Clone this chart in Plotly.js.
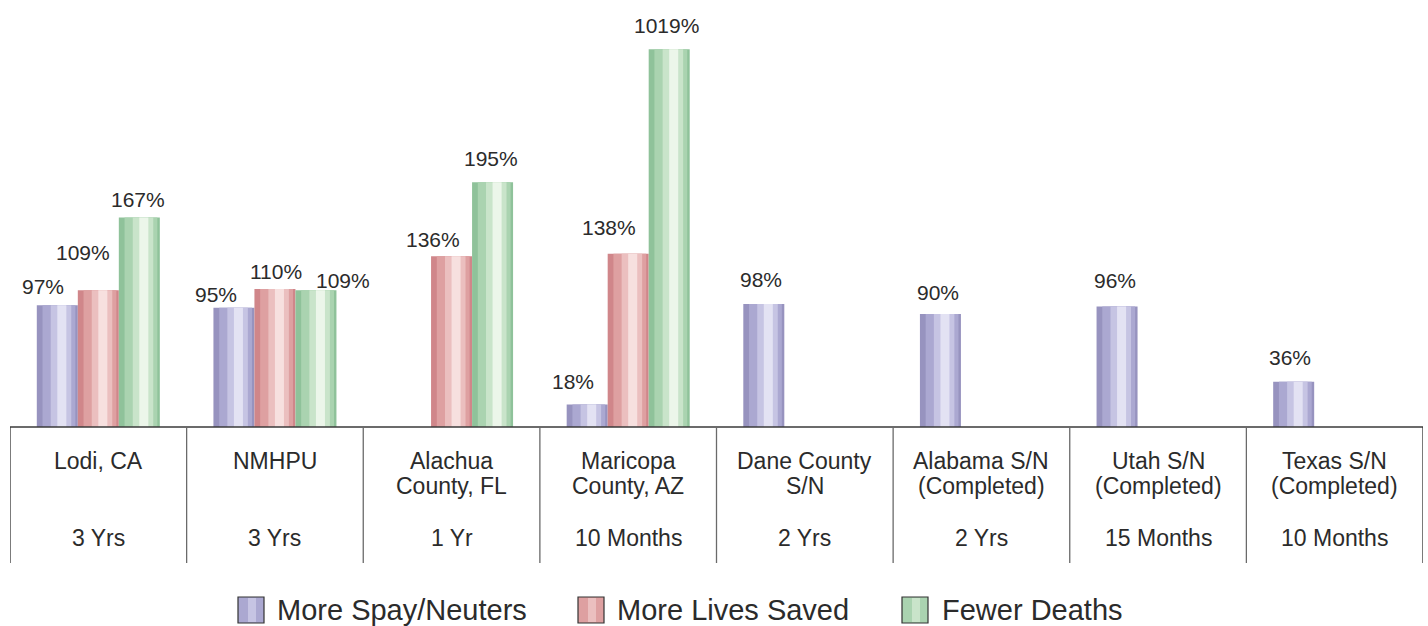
<!DOCTYPE html>
<html><head><meta charset="utf-8">
<script src="https://cdn.plot.ly/plotly-3.0.1.min.js"></script>
<style>html,body{margin:0;padding:0;background:#fff;}#chart{width:1428px;height:626px;}</style>
</head><body><div id="chart"></div>
<script>
// ---------- data ----------
const categories = ["Lodi, CA", "NMHPU", "Alachua<br>County, FL", "Maricopa<br>County, AZ",
  "Dane County<br>S/N", "Alabama S/N<br>(Completed)", "Utah S/N<br>(Completed)", "Texas S/N<br>(Completed)"];
const durations = ["3 Yrs", "3 Yrs", "1 Yr", "10 Months", "2 Yrs", "2 Yrs", "15 Months", "10 Months"];
const seriesNames = ["More Spay/Neuters", "More Lives Saved", "Fewer Deaths"];
const spayNeuters = [97, 95, null, 18, 98, 90, 96, 36];
const livesSaved  = [109, 110, 136, 138, null, null, null, null];
const fewerDeaths = [167, 109, 195, 1019, null, null, null, null];

// ---------- layout constants ----------
const W = 1428, H = 626;
const YMAX = 301;                 // visible top of value axis (taller bars are cut off)
const slotW = 41 / 176.6;         // one bar's width in category units
const seriesVals = [spayNeuters, livesSaved, fewerDeaths];
const palettes = [
  ["#9793bf", "#aba8d1", "#c6c4e3", "#e3e2f3"],
  ["#d0868a", "#dea0a1", "#ebbfbf", "#f7e0df"],
  ["#8fc29a", "#aad3b0", "#c9e4ca", "#ecf6ea"]
];
const strips = [[0, 1], [0.14, 0.94], [0.34, 0.84], [0.5, 0.72]];
// label nudges [dx, dy(px above bar top)]; default used when null
const labelNudge = [
  [[-14, 19], [-18, 13], null, [-14, 23], [-3, 25], [-2, 22], [-2, 26], [-4, 24]],
  [[-15, 38], [1, 17], [-19, 17], [-19, 26], null, null, null, null],
  [[-1, 18], [27, 10], [-2, 24], [-3, 24], null, null, null, null]
];

const xs = categories.map((c, i) => i);
const traces = [];
seriesVals.forEach((vals, s) => {
  const left = -1.5 * slotW + s * slotW;
  strips.forEach((st, k) => {
    traces.push({
      type: 'bar', x: xs, y: vals, name: seriesNames[s], showlegend: false,
      offset: left + st[0] * slotW, width: (st[1] - st[0]) * slotW,
      marker: {color: palettes[s][k], line: {width: 0}},
      hoverinfo: k === 0 ? 'y+name' : 'skip'
    });
  });
});

const font = "Liberation Sans, Arial, Helvetica, sans-serif";
const annotations = [];
seriesVals.forEach((vals, s) => {
  vals.forEach((v, i) => {
    if (v === null) return;
    const n = labelNudge[s][i] || [-3, 24];
    annotations.push({
      x: i + (s - 1) * slotW, y: Math.min(v, YMAX), xref: 'x', yref: 'y',
      text: v + '%', showarrow: false, xanchor: 'center', yanchor: 'middle',
      xshift: n[0], yshift: n[1], font: {family: font, size: 21, color: '#2b2b2b'}
    });
  });
});
// table text
const pyv = p => 1 - p / H;
categories.forEach((c, i) => {
  c.split('<br>').forEach((line, j) => {
    annotations.push({x: i, xref: 'x', yref: 'paper', y: pyv(461 + 25 * j), text: line,
      showarrow: false, xanchor: 'center', yanchor: 'middle',
      font: {family: font, size: 23, color: '#2b2b2b'}});
  });
  annotations.push({x: i, xref: 'x', yref: 'paper', y: pyv(538), text: durations[i],
    showarrow: false, xanchor: 'center', yanchor: 'middle',
    font: {family: font, size: 23, color: '#2b2b2b'}});
});

const shapes = [];
shapes.push({type: 'line', xref: 'paper', yref: 'paper', x0: 10 / W, x1: 1423 / W, y0: pyv(427), y1: pyv(427),
  line: {color: '#3a3a3a', width: 1.5}});
for (let b = 0; b <= categories.length; b++) {
  shapes.push({type: 'line', xref: 'x', yref: 'paper', x0: b - 0.5, x1: b - 0.5, y0: pyv(427), y1: pyv(563),
    line: {color: (b === 0 || b === categories.length) ? '#333' : '#6a6a6a', width: 1.3}});
}
// legend
const legSq = [238, 578, 902], legTx = [275, 615, 940];
seriesNames.forEach((nm, s) => {
  shapes.push({type: 'rect', xref: 'paper', yref: 'paper', x0: legSq[s] / W, x1: (legSq[s] + 26) / W,
    y0: pyv(623), y1: pyv(597), fillcolor: palettes[s][1], line: {color: '#333', width: 1.2}});
  shapes.push({type: 'rect', xref: 'paper', yref: 'paper', x0: (legSq[s] + 10) / W, x1: (legSq[s] + 18) / W,
    y0: pyv(622), y1: pyv(598), fillcolor: palettes[s][2], line: {width: 0}});
  annotations.push({x: legTx[s] / W, xref: 'paper', yref: 'paper', y: pyv(610), text: nm,
    showarrow: false, xanchor: 'left', yanchor: 'middle',
    font: {family: font, size: 29, color: '#2b2b2b'}});
});

const layout = {
  width: W, height: H, margin: {l: 0, r: 0, t: 0, b: 0},
  paper_bgcolor: '#fff', plot_bgcolor: '#fff',
  barmode: 'overlay', showlegend: false,
  xaxis: {domain: [10 / W, 1423 / W], range: [-0.5, 7.5], showticklabels: false, ticks: '',
    showgrid: false, zeroline: false, showline: false, fixedrange: true},
  yaxis: {domain: [pyv(427), pyv(49.3)], range: [0, YMAX], visible: false, showgrid: false,
    zeroline: false, fixedrange: true},
  shapes: shapes, annotations: annotations
};
Plotly.newPlot('chart', traces, layout, {displayModeBar: false, staticPlot: true});
</script></body></html>
